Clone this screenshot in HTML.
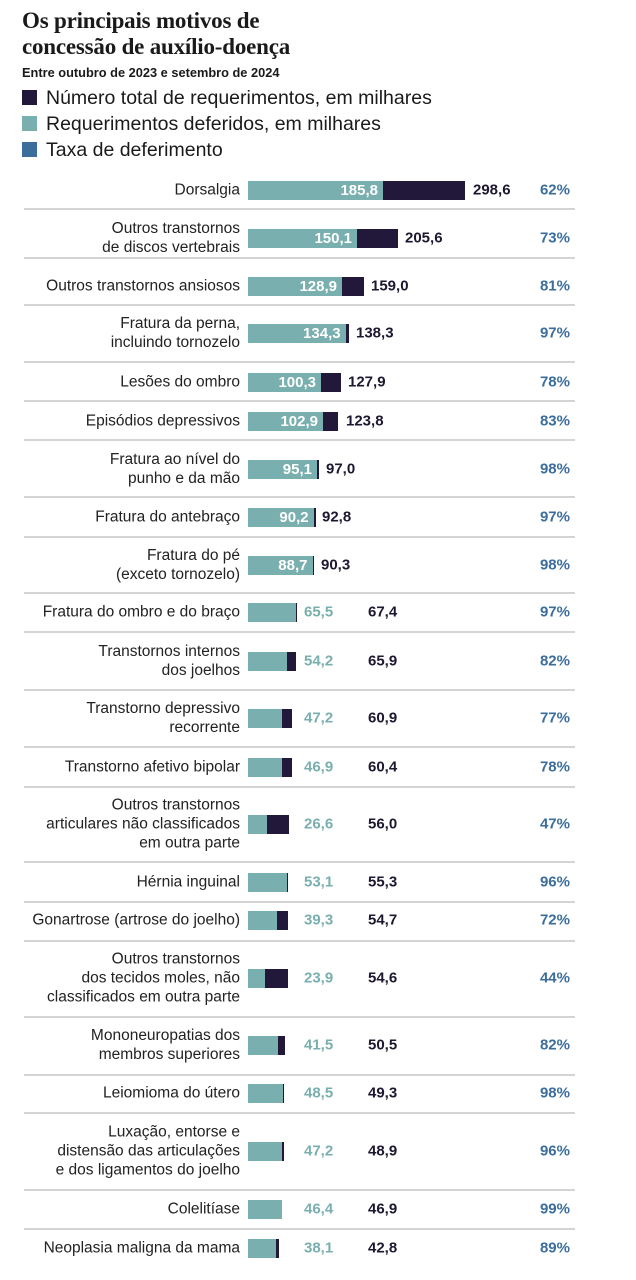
<!DOCTYPE html>
<html><head><meta charset="utf-8"><style>
body{margin:0;width:636px;height:1280px;background:#fff;position:relative;overflow:hidden;font-family:"Liberation Sans",sans-serif;color:#1a1a1a}
.h{position:absolute;left:22px;font-family:"Liberation Serif",serif;font-weight:bold;font-size:23px;line-height:26px;letter-spacing:-0.2px;color:#1a1a1a}
.sub{position:absolute;left:22px;top:65px;font-size:12.8px;font-weight:bold}
.lg{position:absolute;left:22px;font-size:19.5px;line-height:22px}
.lg i{display:inline-block;width:15px;height:15px;margin-right:9px;vertical-align:-1px}
.r{position:absolute;left:0;width:636px;height:0}
.l{position:absolute;right:396px;text-align:right;transform:translateY(-50%);font-size:15.5px;line-height:19px;white-space:nowrap;color:#222}
.b{position:absolute;left:248px;top:-9.5px;height:19px}
.tl{background:#7aafaf;color:#fff;font-weight:bold;font-size:15px;line-height:19px;text-align:right;box-sizing:border-box;padding-right:5px;overflow:visible;white-space:nowrap}
.dk{background:#22183a}
.v{position:absolute;transform:translateY(-50%);font-size:15px;font-weight:bold;line-height:19px}
.tv{color:#7aafaf;left:304px}
.kv{color:#1e1730}
.p{position:absolute;right:66px;transform:translateY(-50%);font-size:15px;font-weight:bold;color:#3b6e9c;line-height:19px}
.s{position:absolute;left:24px;width:551px;height:2px;background:#d4d4d4}
</style></head><body>
<div class="h" style="top:8px">Os principais motivos de</div>
<div class="h" style="top:34px">concessão de auxílio-doença</div>
<div class="sub">Entre outubro de 2023 e setembro de 2024</div>
<div class="lg" style="top:87px"><i style="background:#22183a"></i>Número total de requerimentos, em milhares</div>
<div class="lg" style="top:113px"><i style="background:#7aafaf"></i>Requerimentos deferidos, em milhares</div>
<div class="lg" style="top:139px"><i style="background:#3b6e9c"></i>Taxa de deferimento</div>

<div class="s" style="top:208px"></div><div class="s" style="top:257px"></div><div class="s" style="top:304px"></div><div class="s" style="top:361px"></div><div class="s" style="top:400px"></div><div class="s" style="top:439px"></div><div class="s" style="top:496px"></div><div class="s" style="top:536px"></div><div class="s" style="top:592px"></div><div class="s" style="top:631px"></div><div class="s" style="top:689px"></div><div class="s" style="top:746px"></div><div class="s" style="top:786px"></div><div class="s" style="top:861px"></div><div class="s" style="top:901px"></div><div class="s" style="top:940px"></div><div class="s" style="top:1016px"></div><div class="s" style="top:1074px"></div><div class="s" style="top:1112px"></div><div class="s" style="top:1189px"></div><div class="s" style="top:1228px"></div>

<div class="r" style="top:190px"><div class="l">Dorsalgia</div><div class="b dk" style="width:217px"></div><div class="b tl" style="width:135px">185,8</div><div class="v kv" style="left:473px">298,6</div><div class="p">62%</div></div>
<div class="r" style="top:238px"><div class="l">Outros transtornos<br>de discos vertebrais</div><div class="b dk" style="width:150px"></div><div class="b tl" style="width:109px">150,1</div><div class="v kv" style="left:405px">205,6</div><div class="p">73%</div></div>
<div class="r" style="top:286px"><div class="l">Outros transtornos ansiosos</div><div class="b dk" style="width:116px"></div><div class="b tl" style="width:94px">128,9</div><div class="v kv" style="left:371px">159,0</div><div class="p">81%</div></div>
<div class="r" style="top:333px"><div class="l">Fratura da perna,<br>incluindo tornozelo</div><div class="b dk" style="width:100.5px"></div><div class="b tl" style="width:97.6px">134,3</div><div class="v kv" style="left:356px">138,3</div><div class="p">97%</div></div>
<div class="r" style="top:382px"><div class="l">Lesões do ombro</div><div class="b dk" style="width:93px"></div><div class="b tl" style="width:73px">100,3</div><div class="v kv" style="left:348px">127,9</div><div class="p">78%</div></div>
<div class="r" style="top:421px"><div class="l">Episódios depressivos</div><div class="b dk" style="width:90px"></div><div class="b tl" style="width:75px">102,9</div><div class="v kv" style="left:346px">123,8</div><div class="p">83%</div></div>
<div class="r" style="top:469px"><div class="l">Fratura ao nível do<br>punho e da mão</div><div class="b dk" style="width:70.5px"></div><div class="b tl" style="width:69px">95,1</div><div class="v kv" style="left:326px">97,0</div><div class="p">98%</div></div>
<div class="r" style="top:517px"><div class="l">Fratura do antebraço</div><div class="b dk" style="width:67.5px"></div><div class="b tl" style="width:65.6px">90,2</div><div class="v kv" style="left:322px">92,8</div><div class="p">97%</div></div>
<div class="r" style="top:565px"><div class="l">Fratura do pé<br>(exceto tornozelo)</div><div class="b dk" style="width:65.6px"></div><div class="b tl" style="width:64.5px">88,7</div><div class="v kv" style="left:321px">90,3</div><div class="p">98%</div></div>
<div class="r" style="top:612px"><div class="l">Fratura do ombro e do braço</div><div class="b dk" style="width:49px"></div><div class="b tl" style="width:47.6px"></div><div class="v tv">65,5</div><div class="v kv" style="left:368px">67,4</div><div class="p">97%</div></div>
<div class="r" style="top:661px"><div class="l">Transtornos internos<br>dos joelhos</div><div class="b dk" style="width:48px"></div><div class="b tl" style="width:39.4px"></div><div class="v tv">54,2</div><div class="v kv" style="left:368px">65,9</div><div class="p">82%</div></div>
<div class="r" style="top:718px"><div class="l">Transtorno depressivo<br>recorrente</div><div class="b dk" style="width:44.3px"></div><div class="b tl" style="width:34.3px"></div><div class="v tv">47,2</div><div class="v kv" style="left:368px">60,9</div><div class="p">77%</div></div>
<div class="r" style="top:767px"><div class="l">Transtorno afetivo bipolar</div><div class="b dk" style="width:44px"></div><div class="b tl" style="width:34.1px"></div><div class="v tv">46,9</div><div class="v kv" style="left:368px">60,4</div><div class="p">78%</div></div>
<div class="r" style="top:824px"><div class="l">Outros transtornos<br>articulares não classificados<br>em outra parte</div><div class="b dk" style="width:40.7px"></div><div class="b tl" style="width:19.3px"></div><div class="v tv">26,6</div><div class="v kv" style="left:368px">56,0</div><div class="p">47%</div></div>
<div class="r" style="top:882px"><div class="l">Hérnia inguinal</div><div class="b dk" style="width:40.2px"></div><div class="b tl" style="width:38.6px"></div><div class="v tv">53,1</div><div class="v kv" style="left:368px">55,3</div><div class="p">96%</div></div>
<div class="r" style="top:920px"><div class="l">Gonartrose (artrose do joelho)</div><div class="b dk" style="width:39.8px"></div><div class="b tl" style="width:28.6px"></div><div class="v tv">39,3</div><div class="v kv" style="left:368px">54,7</div><div class="p">72%</div></div>
<div class="r" style="top:978px"><div class="l">Outros transtornos<br>dos tecidos moles, não<br>classificados em outra parte</div><div class="b dk" style="width:39.7px"></div><div class="b tl" style="width:17.4px"></div><div class="v tv">23,9</div><div class="v kv" style="left:368px">54,6</div><div class="p">44%</div></div>
<div class="r" style="top:1045px"><div class="l">Mononeuropatias dos<br>membros superiores</div><div class="b dk" style="width:36.7px"></div><div class="b tl" style="width:30.2px"></div><div class="v tv">41,5</div><div class="v kv" style="left:368px">50,5</div><div class="p">82%</div></div>
<div class="r" style="top:1093px"><div class="l">Leiomioma do útero</div><div class="b dk" style="width:35.8px"></div><div class="b tl" style="width:35.3px"></div><div class="v tv">48,5</div><div class="v kv" style="left:368px">49,3</div><div class="p">98%</div></div>
<div class="r" style="top:1151px"><div class="l">Luxação, entorse e<br>distensão das articulações<br>e dos ligamentos do joelho</div><div class="b dk" style="width:35.5px"></div><div class="b tl" style="width:34.3px"></div><div class="v tv">47,2</div><div class="v kv" style="left:368px">48,9</div><div class="p">96%</div></div>
<div class="r" style="top:1209px"><div class="l">Colelitíase</div><div class="b dk" style="width:34.1px"></div><div class="b tl" style="width:33.7px"></div><div class="v tv">46,4</div><div class="v kv" style="left:368px">46,9</div><div class="p">99%</div></div>
<div class="r" style="top:1248px"><div class="l">Neoplasia maligna da mama</div><div class="b dk" style="width:31.1px"></div><div class="b tl" style="width:27.7px"></div><div class="v tv">38,1</div><div class="v kv" style="left:368px">42,8</div><div class="p">89%</div></div>
</body></html>
